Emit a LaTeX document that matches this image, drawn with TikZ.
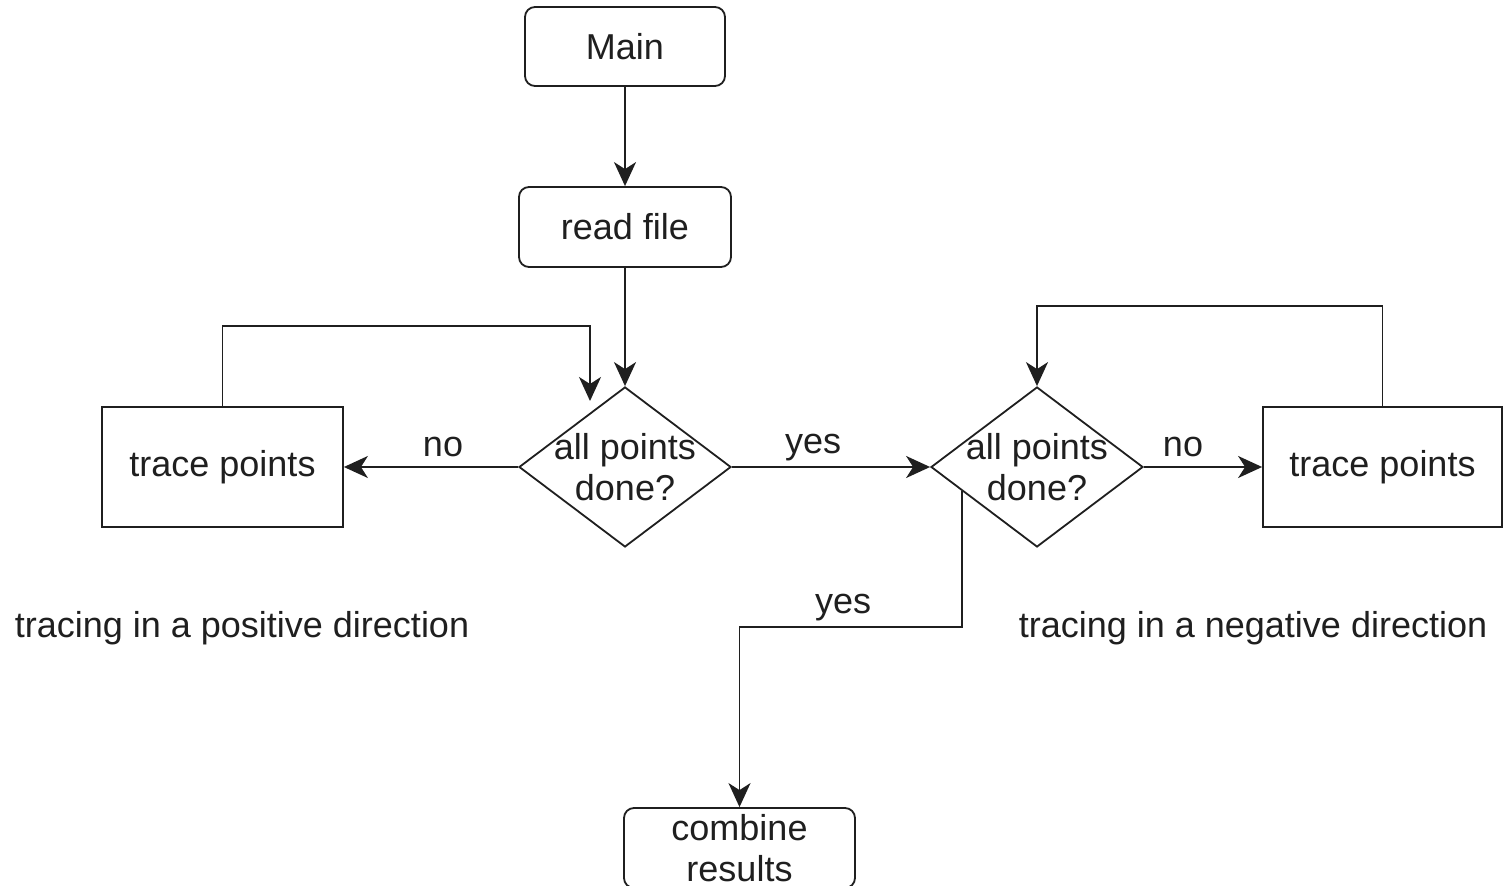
\documentclass[tikz,border=0pt]{standalone}
\usepackage{fontspec}
\setmainfont{Liberation Sans}
\usetikzlibrary{shapes.geometric,arrows.meta,calc}
\begin{document}
\begin{tikzpicture}[x=0.5pt,y=-0.5pt,
  every node/.style={font=\fontsize{18pt}{20.5pt}\selectfont, text=black!88},
  lw/.style={line width=0.9pt, draw=black!88},
  rbox/.style={lw, rounded corners=5pt, inner sep=0pt, align=center},
  sbox/.style={lw, inner sep=0pt, align=center, minimum width=120.5pt, minimum height=60pt},
  dia/.style={lw, diamond, inner sep=0pt, minimum width=106pt, minimum height=80pt},
  arr/.style={lw, -{Stealth[length=12pt,width=11pt,inset=3.5pt]}},
  lbl/.style={anchor=base, inner sep=0pt}
]
\clip (0,0) rectangle (1503,886);
\useasboundingbox (0,0) rectangle (1503,886);
\fill[white] (0,0) rectangle (1503,886);

\node[rbox, minimum width=100pt, minimum height=39.5pt] (main) at (625,46.5) {Main};
\node[rbox, minimum width=106pt, minimum height=40pt] (rf) at (625,227) {read file};
\node[dia, label={[align=center, inner sep=0pt]center:all points\\done?}] (ld) at (625,467) {};
\node[dia, label={[align=center, inner sep=0pt]center:all points\\done?}] (rd) at (1037,467) {};
\node[sbox] (lt) at (222.5,467) {\raisebox{-1pt}{trace points}};
\node[sbox, minimum width=119.5pt] (rt) at (1382.5,467) {\raisebox{-1pt}{trace points}};
\node[rbox, minimum width=115.5pt, minimum height=40pt] (cr) at (739.5,848) {combine\\results};

\node[lbl] (tpos) at (242,638) {tracing in a positive direction};
\node[lbl] (tneg) at (1253,638) {tracing in a negative direction};

\node[lbl] (lno) at (443,457) {no};
\node[lbl] (lyes) at (813,454) {yes};
\node[lbl] (rno) at (1183,457) {no};
\node[lbl] (byes) at (843,613) {yes};

\draw[arr] (main) -- (rf);
\draw[arr] (rf) -- (ld.north);
\draw[arr] (ld.west) -- (lt.east);
\draw[arr] (ld.east) -- (rd.west);
\draw[arr] (rd.east) -- (rt.west);
\coordinate (lend) at (590,401);
\draw[arr] (lt.north) -- ++(0,-80) -| (lend);
\draw[arr] (rt.north) -- ++(0,-100) -| (rd.north);
\coordinate (rs) at ($(rd.west)!0.3!(rd.south)$);
\draw[arr] (rs) -- ++(0,136) -| (cr.north);
\end{tikzpicture}
\end{document}
